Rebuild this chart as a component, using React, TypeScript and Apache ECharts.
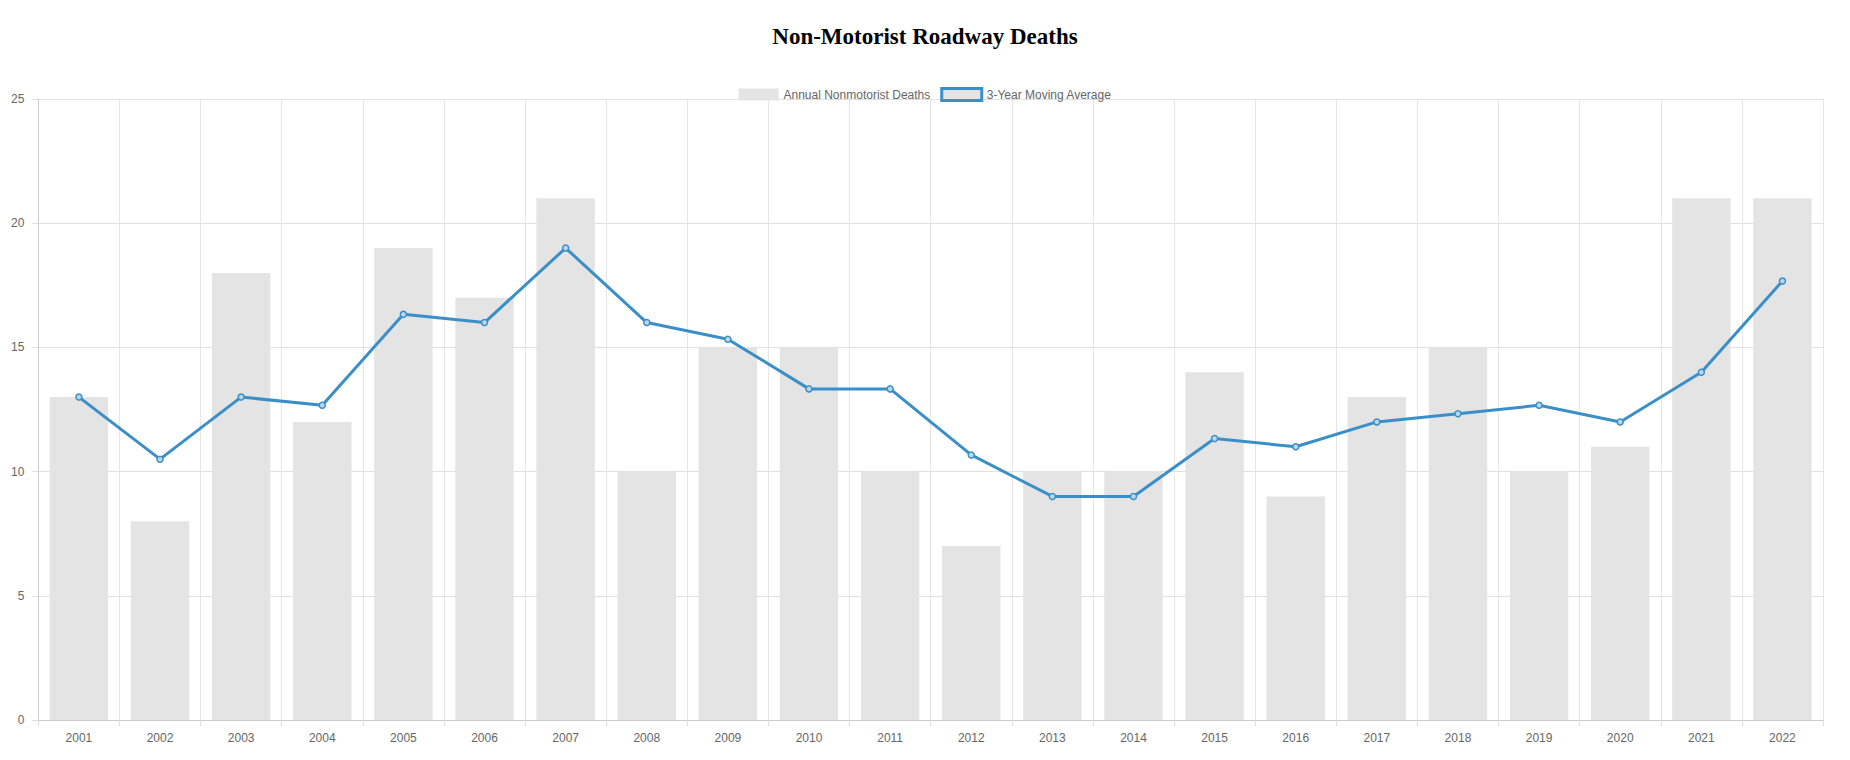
import React, { useEffect, useRef } from "react";
import * as echarts from "echarts";

const years = ["2001","2002","2003","2004","2005","2006","2007","2008","2009","2010","2011","2012","2013","2014","2015","2016","2017","2018","2019","2020","2021","2022"];
const annualDeaths = [13,8,18,12,19,17,21,10,15,15,10,7,10,10,14,9,13,15,10,11,21,21];
const movingAvg = [13,10.5,13,12.67,16.33,16,19,16,15.33,13.33,13.33,10.67,9,9,11.33,11,12,12.33,12.67,12,14,17.67];

export default function App() {
  const ref = useRef<HTMLDivElement>(null);
  useEffect(() => {
    const chart = echarts.init(ref.current!, null, { renderer: "svg" });
    const font = "Liberation Sans, Arial, sans-serif";
    chart.setOption({
      animation: false,
      title: {
        text: "Non-Motorist Roadway Deaths",
        left: "center",
        top: 12,
        textStyle: { fontFamily: "Liberation Serif, Times New Roman, serif", fontSize: 23, fontWeight: "bold", color: "#000" },
      },
      legend: {
        top: 74,
        left: "center",
        itemWidth: 40,
        itemHeight: 12,
        itemGap: 10,
        textStyle: { fontFamily: font, fontSize: 12, color: "#666" },
        data: [
          { name: "Annual Nonmotorist Deaths", icon: "rect", itemStyle: { color: "#e4e4e4" } },
          { name: "3-Year Moving Average", icon: "rect", itemStyle: { color: "#e4e4e4", borderColor: "#3a8fc8", borderWidth: 3 } },
        ],
      },
      grid: { left: 30, right: 19, top: 91, bottom: 32, containLabel: false },
      xAxis: {
        type: "category",
        data: years,
        axisLine: { lineStyle: { color: "#ccc" } },
        axisTick: { show: true, length: 6, lineStyle: { color: "#ddd" } },
        axisLabel: { fontFamily: font, fontSize: 12, color: "#666", margin: 12 },
        splitLine: { show: true, lineStyle: { color: "#e5e5e5" } },
      },
      yAxis: {
        type: "value",
        min: 0,
        max: 25,
        interval: 5,
        axisLine: { show: true, lineStyle: { color: "#ccc" } },
        axisTick: { show: true, length: 6, lineStyle: { color: "#ddd" } },
        axisLabel: { fontFamily: font, fontSize: 12, color: "#666", margin: 14 },
        splitLine: { lineStyle: { color: "#e0e0e0" } },
      },
      series: [
        {
          name: "3-Year Moving Average",
          type: "line",
          data: movingAvg,
          z: 3,
          symbol: "circle",
          symbolSize: 6,
          lineStyle: { color: "#3a8fc8", width: 3 },
          itemStyle: { color: "#bcd6ea", borderColor: "#3a8fc8", borderWidth: 1.5 },
        },
        {
          name: "Annual Nonmotorist Deaths",
          type: "bar",
          data: annualDeaths,
          z: 1,
          barCategoryGap: "28%",
          itemStyle: { color: "#e4e4e4" },
        },
      ],
    });
    return () => chart.dispose();
  }, []);
  return <div ref={ref} style={{ width: 1834, height: 744 }} />;
}
